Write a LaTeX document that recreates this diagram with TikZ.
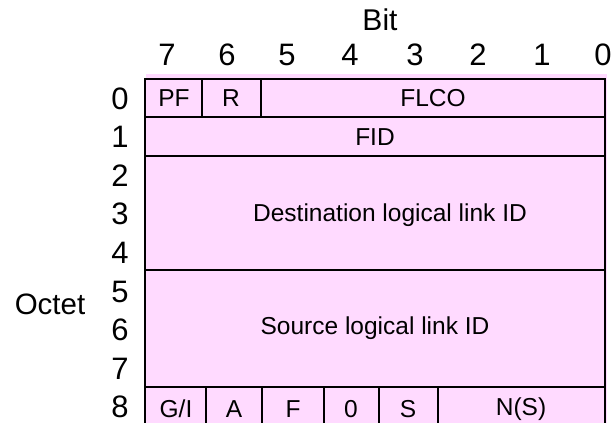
\documentclass[tikz,border=0pt]{standalone}
\usepackage{fontspec}
\setmainfont{Liberation Sans}
\usepackage{xcolor}
\usepackage{tikz}
\usetikzlibrary{positioning, calc}
\definecolor{framepink}{HTML}{FFDAFF}

\tikzset{
  frameline/.style={line width=2.8pt, black},
  cellline/.style={line width=2pt, black},
  bitnum/.style={font=\fontsize{31}{34}\selectfont, inner sep=0pt, anchor=base},
  fieldtxt/.style={font=\fontsize{24.5}{27}\selectfont, inner sep=0pt}
}

\begin{document}
\begin{tikzpicture}[x=1pt, y=-1pt]
    \useasboundingbox (0,0) rectangle (611,423);
    % pink field area
    \fill[framepink] (146,74) rectangle (607,430);
    % outer frame and octet rows
    \draw[frameline] (145,440) -- (145,79) -- (605,79) -- (605,440);
    \foreach \yrow in {117,156,270,387}
      \draw[frameline] (145,\yrow) -- (605,\yrow);
    % cell dividers
    \foreach \xcol in {202,261}
      \draw[cellline] (\xcol,79) -- (\xcol,117);
    \foreach \xcol in {206,262,324,379,438}
      \draw[cellline] (\xcol,387) -- (\xcol,440);

    % axis titles
    \node[font=\fontsize{30}{32}\selectfont, inner sep=0pt] (bittitle) at (380,20) {Bit};
    \node[font=\fontsize{29.5}{32}\selectfont, inner sep=0pt] (octettitle) at (50,304) {Octet};

    % bit numbers
    \foreach \bx/\bn in {167/7, 227/6, 287/5, 350/4, 415/3, 478/2, 542/1, 603/0}
      \node[bitnum] (bit\bn) at (\bx,65) {\bn};
    % octet numbers
    \foreach \on in {0,...,8}
      \node[bitnum] (oct\on) at (120,{109+38.6*\on}) {\on};

    % fields
    \node[fieldtxt] (pf)   at (174,98)  {PF};
    \node[fieldtxt] (rsv)  at (231,98)  {R};
    \node[fieldtxt] (flco) at (433,98)  {FLCO};
    \node[fieldtxt] (fid)  at (375,137) {FID};
    \node[fieldtxt] (dst)  at (390,215) {Destination logical link ID};
    \node[fieldtxt] (src)  at (375,328) {Source logical link ID};
    \node[fieldtxt] (gi)   at (176,409) {G/I};
    \node[fieldtxt] (ack)  at (234,409) {A};
    \node[fieldtxt] (ff)   at (293,409) {F};
    \node[fieldtxt] (zero) at (351,409) {0};
    \node[fieldtxt] (ss)   at (408,409) {S};
    \node[fieldtxt] (ns)   at (521,409) {N(S)};
  \end{tikzpicture}
\end{document}
